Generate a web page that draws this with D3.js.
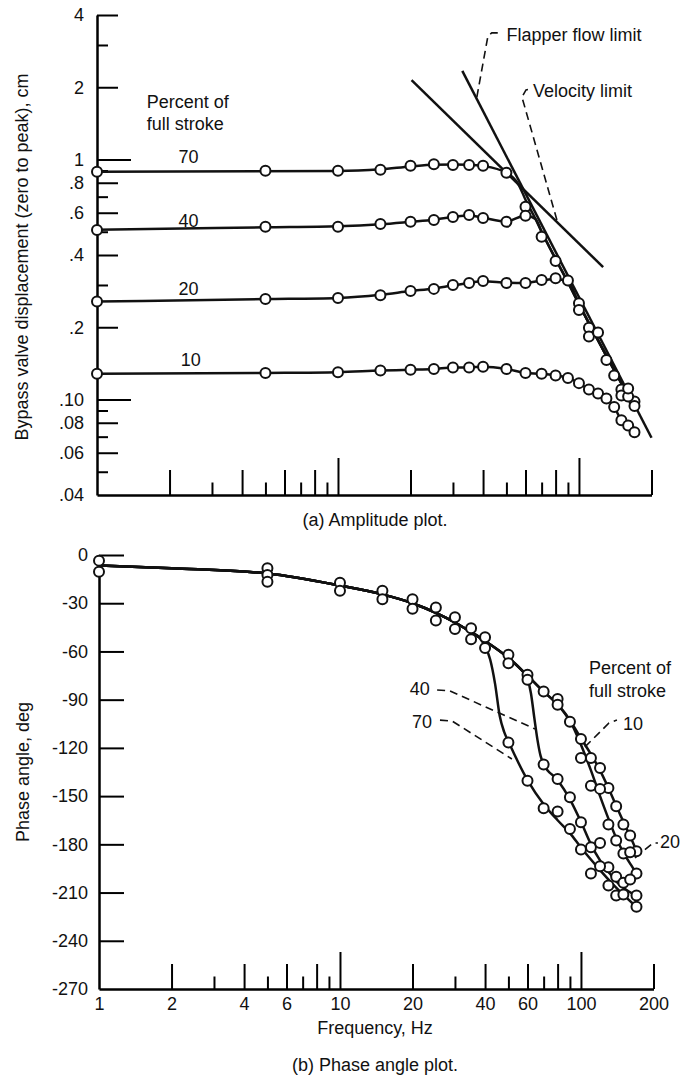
<!DOCTYPE html>
<html>
<head>
<meta charset="utf-8">
<script src="https://cdn.jsdelivr.net/npm/d3@7"></script>
<style>
  html, body { margin: 0; padding: 0; background: #fff; }
  svg text { font-family: "Liberation Sans", Arial, sans-serif; font-size: 18px; fill: #111; }
  .tick line { stroke-width: 2; }
  .domain { stroke-width: 2.5; }
</style>
</head>
<body>
<svg id="chart" width="680" height="1079"></svg>
<script>
// ---------- values ----------

// frequency axis (Hz), shared by both plots
const freqMajor = [2, 4, 6, 8, 20, 40, 60, 80, 200];
const freqMinor = [3, 5, 7, 9, 30, 50, 70, 90];
const freqLong = [10, 100];
const freqLabels = [1, 2, 4, 6, 10, 20, 40, 60, 100, 200];

// amplitude axis (cm)
const ampTicks = [4, 2, 1, 0.8, 0.6, 0.4, 0.2, 0.1, 0.08, 0.06, 0.04];
const ampTickLabels = ["4", "2", "1", ".8", ".6", ".4", ".2", ".10", ".08", ".06", ".04"];
const ampMajor = [4, 2, 0.8, 0.6, 0.4, 0.2, 0.08, 0.06];
const ampMinor = [3, 0.9, 0.7, 0.5, 0.3, 0.09, 0.07, 0.05];
const ampLong = [1, 0.1];

// phase axis (deg)
const phaseTicks = [0, -30, -60, -90, -120, -150, -180, -210, -240, -270];
const phaseTickMarks = [0, -30, -60, -90, -120, -150, -180, -210, -240];

// amplitude data points [freq, cm]
const amp70 = [[1,0.889],[5,0.898],[10,0.898],[15,0.907],[20,0.942],[25,0.955],[30,0.949],[35,0.949],[40,0.942],[50,0.881],
  [60,0.636],[70,0.477],[80,0.378],[100,0.252],[110,0.199],[130,0.146],[150,0.110],[170,0.098]];
const amp40 = [[1,0.508],[5,0.525],[10,0.525],[15,0.538],[20,0.550],[25,0.560],[30,0.576],[35,0.587],[40,0.570],[50,0.550],
  [60,0.583],[110,0.183],[120,0.190],[140,0.126],[150,0.104],[160,0.103],[170,0.094]];
const amp20 = [[1,0.256],[5,0.262],[10,0.265],[15,0.272],[20,0.283],[25,0.289],[30,0.300],[35,0.306],[40,0.312],[50,0.306],
  [60,0.306],[70,0.315],[80,0.320],[90,0.313],[100,0.236],[160,0.111]];
const amp10 = [[1,0.128],[5,0.129],[10,0.130],[15,0.132],[20,0.133],[25,0.134],[30,0.136],[35,0.136],[40,0.137],[50,0.134],
  [60,0.129],[70,0.128],[80,0.126],[90,0.123],[100,0.117],[110,0.110],[120,0.106],[130,0.101],[140,0.093],[150,0.082],[160,0.078],[170,0.073]];

// faired amplitude curves [freq, cm]
const ampTail = [[56,0.79],[60,0.68],[66,0.565],[70,0.50],[80,0.385],[92,0.295],[100,0.25],[130,0.152],[170,0.093]];
const amp70Flat = [[1,0.89],[10,0.895],[15,0.91],[20,0.935],[25,0.95],[30,0.952],[35,0.95],[40,0.94],[50,0.88]];
const amp40Flat = [[1,0.51],[5,0.522],[10,0.527],[15,0.537],[20,0.55],[25,0.561],[30,0.576],[35,0.585],[40,0.572],[50,0.552],[60,0.585]];
const amp20Flat = [[1,0.256],[5,0.262],[10,0.265],[15,0.273],[20,0.283],[25,0.29],[30,0.299],[35,0.306],[40,0.311],[50,0.307],[60,0.306],[70,0.313],[80,0.318],[90,0.31]];

// limit lines [freq, cm]
const velocityLimit = [[20.2, 2.14], [126, 0.356]];
const flapperLimit = [[32.8, 2.34], [200, 0.0693]];

// phase data points [freq, deg]
const phase10 = [[1,-3.5],[5,-8.3],[10,-17.2],[15,-22.2],[20,-27.5],[25,-32.7],[30,-38.7],[35,-45.5],[40,-51.1],[50,-62.1],
  [60,-74.5],[70,-84.9],[80,-89.6],[90,-103.7],[100,-114.5],[110,-126.3],[120,-132.5],[130,-144.9],[140,-156.3],[150,-167.7],[160,-174.5],[170,-184.3]];
const phase20 = [[1,-10.4],[5,-12.4],[10,-22.2],[15,-27.5],[20,-33.5],[25,-40.8],[30,-46.0],[35,-52.4],[50,-67.3],[80,-93.2],
  [100,-126.3],[110,-143.5],[120,-145.5],[130,-167.7],[140,-177.6],[150,-185.7],[160,-184.9],[170,-198.1]];
const phase40 = [[5,-16.6],[60,-77.6],[70,-130.4],[80,-139.3],[90,-150.7],[100,-166.3],[110,-181.8],[120,-179.1],[130,-194.2],
  [140,-200.2],[150,-203.9],[160,-201.9],[170,-211.8]];
const phase70 = [[40,-57.8],[50,-116.6],[60,-140.4],[70,-157.6],[80,-159.6],[90,-170.4],[100,-183.2],[110,-198.1],[120,-193.6],
  [130,-205.6],[140,-211.8],[150,-211.2],[170,-218.8]];

// faired phase curves [freq, deg]
const phaseCommon = [[1,-6.5],[2,-8.3],[5,-11.5],[10,-19],[15,-24.5],[20,-30],[25,-36],[30,-42],[35,-48],[40,-53.5],[50,-64],[60,-75],[70,-85],[80,-93],[90,-103],[100,-114]];
const phase10Branch = [[110,-124],[120,-134],[130,-145],[140,-156],[150,-166],[160,-175],[170,-184]];
const phase20Branch = [[100,-118],[110,-134],[120,-150],[130,-164],[140,-176],[150,-185],[160,-192],[170,-198]];
const phase40Branch = [[57,-72],[60,-77],[62,-86],[64,-101],[66,-115],[68,-125],[70,-130],[80,-140],[90,-152],[100,-166],[110,-180],[120,-190],[130,-197],[140,-203],[150,-207],[170,-212]];
const phase70Branch = [[38,-51.5],[40,-57],[42,-65],[44,-80],[46,-100],[48,-110],[50,-116],[60,-140],[70,-155],[80,-165],[90,-173],[100,-182],[120,-196],[140,-207],[170,-219]];

// annotations, in data units
const ampSeriesLabels = [["70", 2.4, 0.966], ["40", 2.4, 0.523], ["20", 2.4, 0.272], ["10", 2.45, 0.138]];
const flapperLeader = [[37.7,1.82],[41.9,3.27],[43.5,3.37],[48,3.37]];
const velocityLeader = [[81,0.56],[58,1.82],[60.3,1.95],[63.2,1.97]];
const phaseLeaders = {
  "40": [[25.3,-84],[28.5,-84.5],[64.4,-108.2]],
  "70": [[26,-102.7],[29.2,-103.3],[51.7,-126.9]],
  "10": [[103.9,-119.4],[130.7,-104.5],[141,-102.7]],
  "20": [[167.5,-188.5],[199,-179.2],[208.7,-179.2]]
};

// ---------- drawing ----------
const svg = d3.select("#chart");
const ink = "#111";

const xA = d3.scaleLog().domain([1, 200]).range([97, 651.5]);
const yA = d3.scaleLog().domain([0.04, 4]).range([495, 15]);
const xP = d3.scaleLog().domain([1, 200]).range([99, 653.5]);
const yP = d3.scaleLinear().domain([-270, 0]).range([989, 555]);

function tickSet(g, axis, vals, size) {
  g.append("g")
    .call(axis.tickValues(vals).tickSize(size).tickFormat(""))
    .call(s => s.select(".domain").remove());
}

function frame(x, y, yLo) {
  const g = svg.append("g");
  const gx = g.append("g").attr("transform", "translate(0," + y(yLo) + ")");
  gx.call(d3.axisBottom(x).tickValues([]).tickSizeOuter(0));
  tickSet(gx, d3.axisBottom(x), freqMajor, -25);
  tickSet(gx, d3.axisBottom(x), freqMinor, -12.5);
  tickSet(gx, d3.axisBottom(x), freqLong, -37);
  const gy = g.append("g").attr("transform", "translate(" + x(1) + ",0)");
  gy.call(d3.axisLeft(y).tickValues([]).tickSizeOuter(0));
  return { g, gx, gy };
}

// ---- (a) amplitude ----
const A = frame(xA, yA, 0.04);
tickSet(A.gy, d3.axisLeft(yA), ampMajor, -21);
tickSet(A.gy, d3.axisLeft(yA), ampMinor, -11);
tickSet(A.gy, d3.axisLeft(yA), ampLong, -34);
A.gy.append("g")
  .call(d3.axisLeft(yA).tickValues(ampTicks).tickSize(0).tickPadding(13)
    .tickFormat((d, i) => ampTickLabels[i]))
  .call(s => s.select(".domain").remove());

const lineA = d3.line().x(d => xA(d[0])).y(d => yA(d[1])).curve(d3.curveMonotoneX);
const straightA = d3.line().x(d => xA(d[0])).y(d => yA(d[1]));

const ampCurves = [
  amp70Flat.concat(ampTail),
  amp40Flat.concat(ampTail.filter(d => d[0] >= 66)),
  amp20Flat.concat(ampTail.filter(d => d[0] >= 100)),
  amp10
];
ampCurves.forEach(c => {
  A.g.append("path").datum(c).attr("d", lineA)
    .attr("fill", "none").attr("stroke", ink).attr("stroke-width", 2.5);
});
[velocityLimit, flapperLimit].forEach(c => {
  A.g.append("path").datum(c).attr("d", straightA)
    .attr("fill", "none").attr("stroke", ink).attr("stroke-width", 2.5);
});
[flapperLeader, velocityLeader].forEach(c => {
  A.g.append("path").datum(c).attr("d", straightA)
    .attr("fill", "none").attr("stroke", ink).attr("stroke-width", 1.6)
    .attr("stroke-dasharray", "8,5");
});

[amp70, amp40, amp20, amp10].forEach(pts => {
  A.g.append("g").selectAll("circle").data(pts).join("circle")
    .attr("cx", d => xA(d[0])).attr("cy", d => yA(d[1])).attr("r", 5)
    .attr("fill", "#fff").attr("stroke", ink).attr("stroke-width", 2);
});

ampSeriesLabels.forEach(([t, f, v]) => {
  A.g.append("text").attr("x", xA(f)).attr("y", yA(v)).attr("text-anchor", "middle").text(t);
});
A.g.append("text").attr("x", xA(50)).attr("y", yA(3.12)).text("Flapper flow limit");
A.g.append("text").attr("x", xA(64.4)).attr("y", yA(1.82)).text("Velocity limit");
const pctA = A.g.append("text").attr("x", xA(1.61)).attr("y", yA(1.64));
pctA.append("tspan").text("Percent of");
pctA.append("tspan").attr("x", xA(1.61)).attr("dy", 22).text("full stroke");

svg.append("text").attr("transform", "translate(28,257) rotate(-90)")
  .attr("text-anchor", "middle").text("Bypass valve displacement (zero to peak), cm");
svg.append("text").attr("x", 375).attr("y", 526).attr("text-anchor", "middle").text("(a) Amplitude plot.");

// ---- (b) phase ----
const P = frame(xP, yP, -270);
tickSet(P.gy, d3.axisLeft(yP), phaseTickMarks, -25);
P.gy.append("g")
  .call(d3.axisLeft(yP).tickValues(phaseTicks).tickSize(0).tickPadding(11).tickFormat(d => String(d)))
  .call(s => s.select(".domain").remove());
P.gx.append("g")
  .call(d3.axisBottom(xP).tickValues(freqLabels).tickSize(0).tickPadding(8).tickFormat(d3.format("d")))
  .call(s => s.select(".domain").remove());

const lineP = d3.line().x(d => xP(d[0])).y(d => yP(d[1])).curve(d3.curveMonotoneX);
const straightP = d3.line().x(d => xP(d[0])).y(d => yP(d[1]));

const phaseCurves = [
  phaseCommon.concat(phase10Branch),
  phaseCommon.filter(d => d[0] <= 90).concat(phase20Branch),
  phaseCommon.filter(d => d[0] <= 50).concat(phase40Branch),
  phaseCommon.filter(d => d[0] <= 35).concat(phase70Branch)
];
phaseCurves.forEach(c => {
  P.g.append("path").datum(c).attr("d", lineP)
    .attr("fill", "none").attr("stroke", ink).attr("stroke-width", 2.5);
});
Object.values(phaseLeaders).forEach(c => {
  P.g.append("path").datum(c).attr("d", straightP)
    .attr("fill", "none").attr("stroke", ink).attr("stroke-width", 1.6)
    .attr("stroke-dasharray", "8,5");
});
[phase10, phase20, phase40, phase70].forEach(pts => {
  P.g.append("g").selectAll("circle").data(pts).join("circle")
    .attr("cx", d => xP(d[0])).attr("cy", d => yP(d[1])).attr("r", 5)
    .attr("fill", "#fff").attr("stroke", ink).attr("stroke-width", 2);
});

P.g.append("text").attr("x", xP(23.6)).attr("y", yP(-87.1)).attr("text-anchor", "end").text("40");
P.g.append("text").attr("x", xP(24.1)).attr("y", yP(-107.6)).attr("text-anchor", "end").text("70");
P.g.append("text").attr("x", xP(149.4)).attr("y", yP(-108.9)).text("10");
P.g.append("text").attr("x", xP(212.7)).attr("y", yP(-182.3)).text("20");
const pctP = P.g.append("text").attr("x", xP(108)).attr("y", yP(-74));
pctP.append("tspan").text("Percent of");
pctP.append("tspan").attr("x", xP(108)).attr("dy", 23).text("full stroke");

svg.append("text").attr("transform", "translate(29,772) rotate(-90)")
  .attr("text-anchor", "middle").text("Phase angle, deg");
svg.append("text").attr("x", 375).attr("y", 1034).attr("text-anchor", "middle").text("Frequency, Hz");
svg.append("text").attr("x", 375).attr("y", 1071).attr("text-anchor", "middle").text("(b) Phase angle plot.");
</script>
</body>
</html>
